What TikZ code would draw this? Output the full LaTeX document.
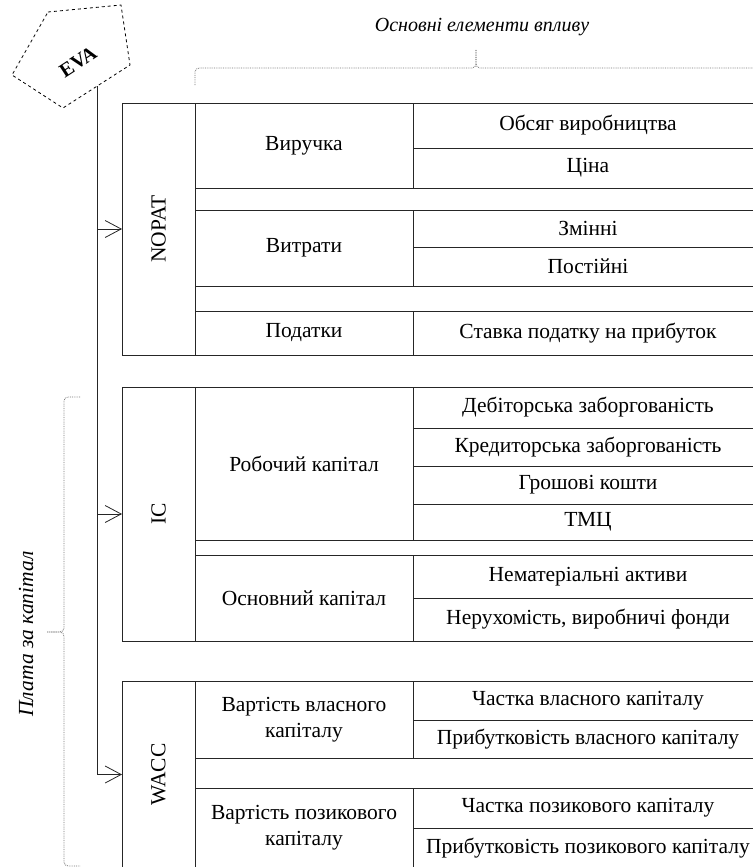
\documentclass[tikz,border=0pt]{standalone}
\usepackage{fontspec}
\setmainfont{Liberation Serif}
\usetikzlibrary{arrows.meta, positioning}

\begin{document}
\begin{tikzpicture}[x=1pt, y=-1pt, font=\fontsize{21.5}{26}\selectfont]
  \tikzstyle{cell}=[draw=black!85, line width=1pt, rectangle, outer sep=0pt, inner sep=0pt, anchor=north west, align=center]
  \tikzstyle{side}=[cell, minimum width=73pt]
  \tikzstyle{item}=[cell, minimum width=218pt]
  \tikzstyle{factor}=[cell, minimum width=350pt]
  \tikzstyle{feed}=[draw=black!85, line width=1pt, -{Straight Barb[length=16pt, width=17pt, line width=0.8pt]}]
  \tikzstyle{hint}=[draw=black!55, densely dotted, line width=0.8pt, rounded corners=4pt]

  \useasboundingbox (0,0) rectangle (752,867);

  % EVA
  \draw[dashed, line width=0.8pt] (48,12) -- (121,5) -- (130,65) -- (63,108) -- (12,75) -- cycle;
  \node[rotate=33, font=\fontsize{20}{22}\selectfont\bfseries] (eva) at (78,62) {EVA};
  \coordinate (foot) at (97,86);

  % NOPAT
  \node[side, minimum height=252pt] (nopat)   at (122,103) {\rotatebox{90}{NOPAT}};
  \node[item, minimum height=85pt]  (revenue) at (195,103) {Виручка};
  \node[factor, minimum height=45pt] (volume) at (413,103) {Обсяг виробництва};
  \node[factor, minimum height=40pt] (price)  [below=0pt of volume] {Ціна};
  \node[item, minimum height=76pt]  (costs)   at (195,210) {Витрати};
  \node[factor, minimum height=37pt] (varcost) at (413,210) {Змінні};
  \node[factor, minimum height=39pt] (fixcost) [below=0pt of varcost] {Постійні};
  \node[item, minimum height=44pt]  (taxes)   at (195,311) {Податки};
  \node[factor, minimum height=44pt] (taxrate) at (413,311) {Ставка податку на прибуток};

  % IC
  \node[side, minimum height=254pt] (ic)       at (122,387) {\rotatebox{90}{IC}};
  \node[item, minimum height=153pt] (working)  at (195,387) {Робочий капітал};
  \node[factor, minimum height=41pt] (receive) at (413,387) {Дебіторська заборгованість};
  \node[factor, minimum height=38pt] (payable) [below=0pt of receive] {Кредиторська заборгованість};
  \node[factor, minimum height=38pt] (cash)    [below=0pt of payable] {Грошові кошти};
  \node[factor, minimum height=36pt] (stock)   [below=0pt of cash] {ТМЦ};
  \node[item, minimum height=86pt]  (fixed)    at (195,555) {Основний капітал};
  \node[factor, minimum height=43pt] (intang)  at (413,555) {Нематеріальні активи};
  \node[factor, minimum height=43pt] (estate)  [below=0pt of intang] {Нерухомість, виробничі фонди};

  % WACC
  \node[side, minimum height=187pt] (wacc)     at (122,681) {\rotatebox{90}{WACC}};
  \node[item, minimum height=77pt]  (equity)   at (195,681) {Вартість власного\\капіталу};
  \node[factor, minimum height=39pt] (eqshare) at (413,681) {Частка власного капіталу};
  \node[factor, minimum height=38pt] (eqreturn) [below=0pt of eqshare] {Прибутковість власного капіталу};
  \node[item, minimum height=80pt]  (debt)     at (195,788) {Вартість позикового\\капіталу};
  \node[factor, minimum height=40pt] (dshare)  at (413,788) {Частка позикового капіталу};
  \node[factor, minimum height=40pt] (dreturn) [below=0pt of dshare] {Прибутковість позикового капіталу};

  \draw[feed] (foot) -- (wacc.west -| foot) -- (wacc.west);
  \draw[feed] (nopat.west -| foot) -- (nopat.west);
  \draw[feed] (ic.west -| foot) -- (ic.west);

  % braces
  \node[font=\fontsize{20}{22}\selectfont\itshape] (inflhead) at (482,27) {Основні елементи впливу};
  \draw[hint] (195,85) -- (195,68) -- (476,68) -- (476,50);
  \draw[hint] (476,50) -- (476,68) -- (757,68) -- (757,85);
  \node[font=\fontsize{21.5}{24}\selectfont\itshape, rotate=90] (payhead) at (26,634) {Плата за капітал};
  \draw[hint] (80,397) -- (64,397) -- (64,632) -- (47,632);
  \draw[hint] (47,632) -- (64,632) -- (64,866) -- (80,866);
\end{tikzpicture}
\end{document}
